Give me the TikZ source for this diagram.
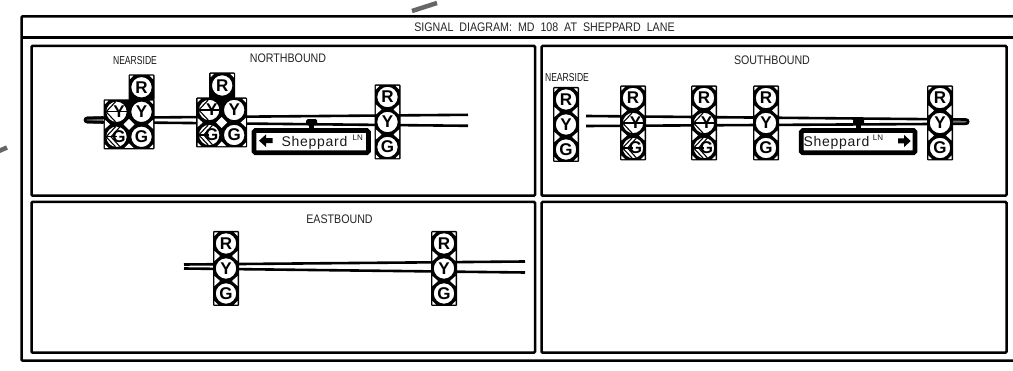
\documentclass[tikz,border=0pt]{standalone}
\usepackage{fontspec}
\setmainfont{Liberation Sans}
\newfontfamily\thinfont[FakeStretch=0.86]{Liberation Sans}
\newfontfamily\nearfont[FakeStretch=0.74]{Liberation Sans}
\newfontfamily\signfont[LetterSpace=5]{Liberation Sans}
\tikzset{
  frameline/.style={draw=black,line width=2.5pt},
  mast/.style={draw=black,line width=2.6pt},
  lensring/.style={draw=black,fill=white,line width=1.5pt},
  lenstext/.style={inner sep=0pt,font=\fontsize{17}{17}\selectfont\bfseries},
  smalltext/.style={inner sep=0pt,font=\thinfont\fontsize{12.4}{12.4}\selectfont,text=black!85},
  nearlabel/.style={inner sep=0pt,font=\nearfont\fontsize{11.6}{11.6}\selectfont,text=black!90},
  signtext/.style={inner sep=0pt,anchor=base west,font=\signfont\fontsize{14}{14}\selectfont,text=black!90},
  lntext/.style={inner sep=0pt,font=\fontsize{8}{8}\selectfont,text=black!90},
  signboard/.style={draw=black,fill=white,line width=4.8pt,rounded corners=1.5pt},
  chev/.style={draw=black,line width=1.1pt}
}
\newcommand\lensplain[3]{%
  \path[lensring] (#1,#2) circle (11);
  \node[lenstext] at (#1,#2) {#3};}
\newcommand\lensarrow[4]{%
  \path[lensring] (#1,#2) circle (11);
  \begin{scope}[shift={(#1,#2)}]
    \clip (0,0) circle (10.4);
    \ifnum#4=1
      \draw[chev] (-10.4,0) -- (0,0);
      \draw[chev] (3.5,-10) -- (-5.5,0) -- (3.5,10);
    \else
      \draw[chev] (-10.4,0) -- (10.4,0);
    \fi
    \draw[chev] (-1,-10) -- (-10.4,0) -- (-1,10);
  \end{scope}
  \node[lenstext] at (#1+2.5,#2) {#3};}
\newcommand\cornertri[4]{\fill[white] (#1,#2) -- ++(#3,0) -- ++(-#3,#4) -- cycle;}
\newcommand\vframe[2]{%
  \fill[black,rounded corners=1pt] (#1-13,#2-37.5) rectangle (#1+13,#2+37.5);
  \begin{scope}[shift={(#1,#2)}]
    \cornertri{-11.6}{-36.1}{3.6}{3.6}\cornertri{11.6}{-36.1}{-3.6}{3.6}
    \cornertri{-11.6}{36.1}{3.6}{-3.6}\cornertri{11.6}{36.1}{-3.6}{-3.6}
    \fill[white] (-11.6,-17.5) -- (-6,-12.5) -- (-11.6,-7.5) -- cycle;
    \fill[white] (-11.6,17.5) -- (-6,12.5) -- (-11.6,7.5) -- cycle;
    \fill[white] (11.6,-17.5) -- (6,-12.5) -- (11.6,-7.5) -- cycle;
    \fill[white] (11.6,17.5) -- (6,12.5) -- (11.6,7.5) -- cycle;
  \end{scope}}
\newcommand\sigplain[2]{%
  \vframe{#1}{#2}
  \lensplain{#1}{#2-25}{R}\lensplain{#1}{#2}{Y}\lensplain{#1}{#2+25}{G}}
\newcommand\sigarrow[2]{%
  \vframe{#1}{#2}
  \lensplain{#1}{#2-25}{R}\lensarrow{#1}{#2}{Y}{0}\lensarrow{#1}{#2+25}{G}{1}}
\newcommand\cluster[3]{%
  \fill[black,rounded corners=1pt] (#1-25.5,#2-25) rectangle (#1+25.5,#2+25);
  \fill[black,rounded corners=1pt] (#1+#3-13,#2-50) rectangle (#1+#3+13,#2-24);
  \begin{scope}[shift={(#1,#2)}]
    \fill[white] (0,-5.5) -- (5.5,0) -- (0,5.5) -- (-5.5,0) -- cycle;
    \fill[white] (-24.1,-4.5) -- (-19,0) -- (-24.1,4.5) -- cycle;
    \fill[white] (24.1,-4.5) -- (19,0) -- (24.1,4.5) -- cycle;
    \fill[white] (-4.5,23.7) -- (0,19) -- (4.5,23.7) -- cycle;
    \cornertri{-24.1}{-23.6}{3.5}{3.5}\cornertri{24.1}{23.6}{-3.5}{-3.5}
    \cornertri{-24.1}{23.6}{3.5}{-3.5}\cornertri{24.1}{-23.6}{-3.5}{3.5}
    \cornertri{#3-11.6}{-48.6}{3.5}{3.5}\cornertri{#3+11.6}{-48.6}{-3.5}{3.5}
  \end{scope}
  \lensarrow{#1-12.5}{#2-12.5}{Y}{0}\lensarrow{#1-12.5}{#2+12.5}{G}{1}
  \lensplain{#1+12.5}{#2-12.5}{Y}\lensplain{#1+12.5}{#2+12.5}{G}
  \lensplain{#1+#3}{#2-37}{R}}
\newcommand\mount[2]{%
  \fill[black,rounded corners=1.5pt] (#1-5.5,#2-3.5) rectangle (#1+5.5,#2+2.5);
  \fill[black] (#1-2.5,#2) rectangle (#1+2.5,#2+6);}
\begin{document}
\begin{tikzpicture}[x=1pt,y=-1pt]
\useasboundingbox (0,0) rectangle (1013,371);
\fill[white] (0,0) rectangle (1013,371);
\draw[draw=black!60,line width=4.5pt] (412,11) -- (437,3);
\draw[draw=black!60,line width=4.5pt] (-1,151) -- (7,147.5);
\draw[frameline,rounded corners=1pt] (1014,16.5) -- (21.5,16.5) -- (21.5,360.7) -- (1014,360.7);
\draw[frameline] (21.5,37.5) -- (1014,37.5);
\draw[frameline,rounded corners=1pt] (31.5,46) rectangle (535,195.7);
\draw[frameline,rounded corners=1pt] (541.7,46) rectangle (1006.5,195.7);
\draw[frameline,rounded corners=1pt] (31.5,202) rectangle (535,352.7);
\draw[frameline,rounded corners=1pt] (541.7,202) rectangle (1006.5,352.7);
\node[smalltext] (title) at (544.5,27) {SIGNAL\ \ DIAGRAM:\ \ MD\ \ 108\ \ AT\ \ SHEPPARD\ \ LANE};
\node[smalltext] (nb) at (288,58.5) {NORTHBOUND};
\node[smalltext] (sb) at (772,60) {SOUTHBOUND};
\node[smalltext] (eb) at (339.5,219) {EASTBOUND};
\node[nearlabel] (ns1) at (135,61) {NEARSIDE};
\node[nearlabel] (ns2) at (567,78) {NEARSIDE};
% northbound mast
\fill[black!55] (87,118) -- (103,118) -- (103,122) -- (87,122) -- cycle;
\draw[mast,line cap=round] (103,117.5) -- (87,118) arc[start angle=270,end angle=90,radius=2] -- (103,122.5);
\draw[mast] (87,118) -- (468,114.8);
\draw[mast] (87,122) -- (468,125.8);
% southbound mast
\fill[black!55] (953,119.5) -- (967,119.5) -- (967,124) -- (953,124) -- cycle;
\draw[mast] (966,119.5) -- (586,116);
\draw[mast] (966,123.8) -- (586,126);
\draw[mast,line cap=round] (966,119.5) arc[start angle=-90,end angle=90,radius=2.15];
% eastbound mast
\draw[mast] (184,264.5) -- (525,261.5);
\draw[mast] (184,268.5) -- (525,272.5);
% northbound signals
\cluster{129}{124.3}{12.5}
\cluster{221.7}{122.5}{0.5}
\sigplain{387.5}{122}
% northbound sign
\mount{311.7}{122.7}
\path[signboard] (254,130.6) rectangle (368.4,152.7);
\fill[black] (259,140.7) -- (266,134.5) -- (266,138.2) -- (272.5,138.2) -- (272.5,143.2) -- (266,143.2) -- (266,147) -- cycle;
\node[signtext] (sn) at (281.5,146.5) {Sheppard};
\node[lntext] (ln1) at (357.7,138) {LN};
% southbound signals
\sigplain{566}{124.5}
\sigarrow{633}{123}
\sigarrow{704}{123}
\sigplain{766}{123}
\sigplain{940}{123}
% southbound sign
\mount{858.5}{122.5}
\path[signboard] (801.3,130.6) rectangle (915,152.7);
\fill[black] (910.7,141) -- (904,134.8) -- (904,138.5) -- (898,138.5) -- (898,143.5) -- (904,143.5) -- (904,147.2) -- cycle;
\node[signtext] (ss) at (803.5,146.5) {Sheppard};
\node[lntext] (ln2) at (878,138) {LN};
% eastbound signals
\sigplain{226}{268.5}
\sigplain{444}{268.5}
\end{tikzpicture}
\end{document}
